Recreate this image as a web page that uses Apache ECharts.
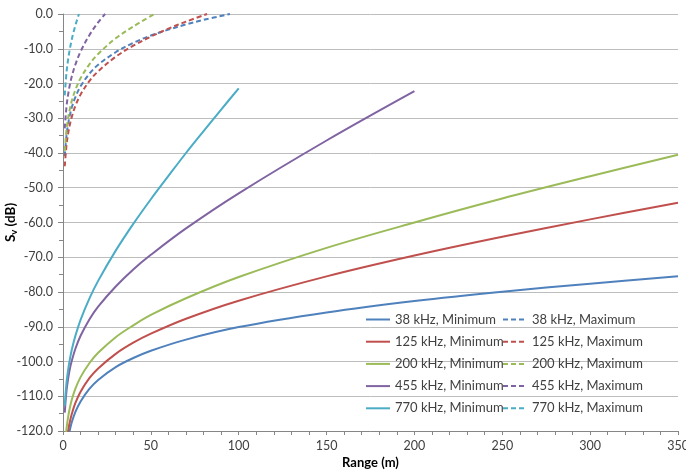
<!DOCTYPE html>
<html>
<head>
<meta charset="utf-8">
<script src="https://cdn.jsdelivr.net/npm/echarts@6/dist/echarts.min.js"></script>
<style>
  html, body { margin: 0; padding: 0; background: #fff; }
  #chart { width: 686px; height: 470px; }
</style>
</head>
<body>
<div id="chart"></div>
<script>
// Range samples (m) for each curve
const rangeLong  = [1, 2, 3, 4, 5, 7, 10, 15, 20, 30, 40, 50, 70, 100, 150, 200, 250, 300, 350];
const range455   = [1, 2, 3, 4, 5, 7, 10, 15, 20, 30, 40, 50, 70, 100, 150, 200];
const range770   = [1, 2, 3, 4, 5, 7, 10, 15, 20, 30, 40, 50, 60, 70, 80, 90, 100];

const range38Max  = [1, 2, 3, 4, 5, 7, 10, 15, 20, 30, 40, 50, 60, 70, 80, 95];
const range125Max = [1, 2, 3, 4, 5, 7, 10, 15, 20, 30, 40, 50, 60, 70, 82];
const range200Max = [1, 2, 3, 4, 5, 7, 10, 15, 20, 30, 40, 52];
const range455Max = [1, 2, 3, 4, 5, 7, 10, 15, 20, 24];
const range770Max = [1, 2, 3, 4, 5, 6, 7, 8, 9.1];

// Sv (dB), minimum
const sv38Min  = [-131.6, -125.5, -122.0, -119.5, -117.5, -114.6, -111.5, -107.9, -105.3, -101.6, -99.0, -96.9, -93.7, -90.1, -85.9, -82.6, -79.9, -77.6, -75.5];
const sv125Min = [-129.3, -123.2, -119.7, -117.1, -115.1, -112.0, -108.7, -104.8, -102.0, -97.8, -94.6, -92.0, -87.7, -82.5, -75.5, -69.5, -64.1, -59.1, -54.3];
const sv200Min = [-125.4, -119.3, -115.7, -113.1, -111.0, -107.9, -104.5, -100.5, -97.5, -93.0, -89.6, -86.6, -81.8, -75.7, -67.3, -60.0, -53.1, -46.7, -40.5];
const sv455Min = [-114.7, -108.4, -104.7, -101.9, -99.8, -96.4, -92.6, -87.9, -84.2, -78.4, -73.5, -69.3, -61.7, -51.6, -36.4, -22.2];
const sv770Min = [-112.7, -106.1, -102.1, -99.1, -96.6, -92.7, -88.0, -81.9, -76.8, -68.1, -60.4, -53.3, -46.6, -40.0, -33.7, -27.5, -21.4];

// Sv (dB), maximum
const sv38Max  = [-40.9, -34.9, -31.4, -28.9, -26.9, -24.0, -20.8, -17.2, -14.6, -11.0, -8.3, -6.2, -4.5, -3.0, -1.7, 0.0];
const sv125Max = [-43.8, -37.7, -34.2, -31.6, -29.6, -26.5, -23.2, -19.3, -16.5, -12.3, -9.1, -6.5, -4.2, -2.2, 0.0];
const sv200Max = [-39.4, -33.3, -29.7, -27.1, -25.0, -21.9, -18.5, -14.5, -11.5, -7.0, -3.6, 0.0];
const sv455Max = [-32.9, -26.6, -22.9, -20.1, -18.0, -14.6, -10.8, -6.1, -2.4, 0.0];
const sv770Max = [-23.4, -16.8, -12.8, -9.8, -7.3, -5.2, -3.4, -1.7, 0.0];

const yTicks = { min: -120, max: 0, step: 10 };
const xTicks = { min: 0, max: 350, step: 50 };

const pair = (xs, ys) => xs.map((x, i) => [x, ys[i]]);

const colors = {
  38: '#4F81BD', 125: '#C0504D', 200: '#9BBB59', 455: '#8064A2', 770: '#4BACC6'
};

const curves = [
  { name: '38 kHz, Minimum',  f: 38,  dash: false, data: pair(rangeLong, sv38Min) },
  { name: '38 kHz, Maximum',  f: 38,  dash: true,  data: pair(range38Max, sv38Max) },
  { name: '125 kHz, Minimum', f: 125, dash: false, data: pair(rangeLong, sv125Min) },
  { name: '125 kHz, Maximum', f: 125, dash: true,  data: pair(range125Max, sv125Max) },
  { name: '200 kHz, Minimum', f: 200, dash: false, data: pair(rangeLong, sv200Min) },
  { name: '200 kHz, Maximum', f: 200, dash: true,  data: pair(range200Max, sv200Max) },
  { name: '455 kHz, Minimum', f: 455, dash: false, data: pair(range455, sv455Min) },
  { name: '455 kHz, Maximum', f: 455, dash: true,  data: pair(range455Max, sv455Max) },
  { name: '770 kHz, Minimum', f: 770, dash: false, data: pair(range770, sv770Min) },
  { name: '770 kHz, Maximum', f: 770, dash: true,  data: pair(range770Max, sv770Max) }
];

const font = 'Lato, "Open Sans", sans-serif';
const textColor = '#404040';

const legendBase = {
  orient: 'vertical',
  top: 313,
  itemWidth: 24,
  itemHeight: 14,
  itemGap: 9.2,
  padding: 0,
  itemStyle: { opacity: 0 },
  textStyle: { fontFamily: font, fontSize: 13, color: textColor },
  backgroundColor: 'transparent'
};

const chart = echarts.init(document.getElementById('chart'), null, { renderer: 'canvas' });
chart.setOption({
  animation: false,
  backgroundColor: '#fff',
  textStyle: { fontFamily: font },
  grid: { left: 63, right: 8, top: 14, bottom: 39, containLabel: false, outerBoundsMode: 'none' },
  legend: [
    Object.assign({}, legendBase, { left: 365, data: curves.filter(c => !c.dash).map(c => c.name) }),
    Object.assign({}, legendBase, { left: 502, data: curves.filter(c => c.dash).map(c => c.name) })
  ],
  xAxis: {
    type: 'value',
    min: xTicks.min, max: xTicks.max, interval: xTicks.step,
    name: 'Range (m)',
    nameLocation: 'middle',
    nameGap: 25,
    nameMoveOverlap: false,
    nameTextStyle: { fontFamily: font, fontWeight: 'bold', fontSize: 13, color: '#000' },
    axisLine: { onZero: false, lineStyle: { color: '#868686', width: 1 } },
    axisTick: { show: true, length: 4, lineStyle: { color: '#868686' } },
    minorTick: { show: true, splitNumber: 5, length: 4, lineStyle: { color: '#868686' } },
    axisLabel: { fontFamily: font, fontSize: 12.5, color: textColor, margin: 8 },
    splitLine: { show: false }
  },
  yAxis: {
    type: 'value',
    min: yTicks.min, max: yTicks.max, interval: yTicks.step,
    name: 'S{v|v} (dB)',
    nameLocation: 'middle',
    nameGap: 44,
    nameMoveOverlap: false,
    nameRotate: 90,
    nameTextStyle: {
      fontFamily: font, fontWeight: 'bold', fontSize: 13.5, color: '#000',
      rich: { v: { fontFamily: font, fontWeight: 'bold', fontSize: 9.5, color: '#000', padding: [6, 0, 0, 0] } }
    },
    axisLine: { show: true, onZero: false, lineStyle: { color: '#868686', width: 1 } },
    axisTick: { show: true, length: 5, lineStyle: { color: '#868686' } },
    minorTick: { show: true, splitNumber: 2, length: 4, lineStyle: { color: '#868686' } },
    axisLabel: { fontFamily: font, fontSize: 12.5, color: textColor, margin: 10, formatter: v => v.toFixed(1) },
    splitLine: { show: true, lineStyle: { color: '#BDBDBD', width: 1 } }
  },
  series: curves.map(c => ({
    type: 'line',
    name: c.name,
    data: c.data,
    smooth: 0.35,
    symbol: 'none',
    clip: true,
    color: colors[c.f],
    lineStyle: { color: colors[c.f], width: 2, type: c.dash ? [5, 3] : 'solid' }
  }))
});
</script>
</body>
</html>
